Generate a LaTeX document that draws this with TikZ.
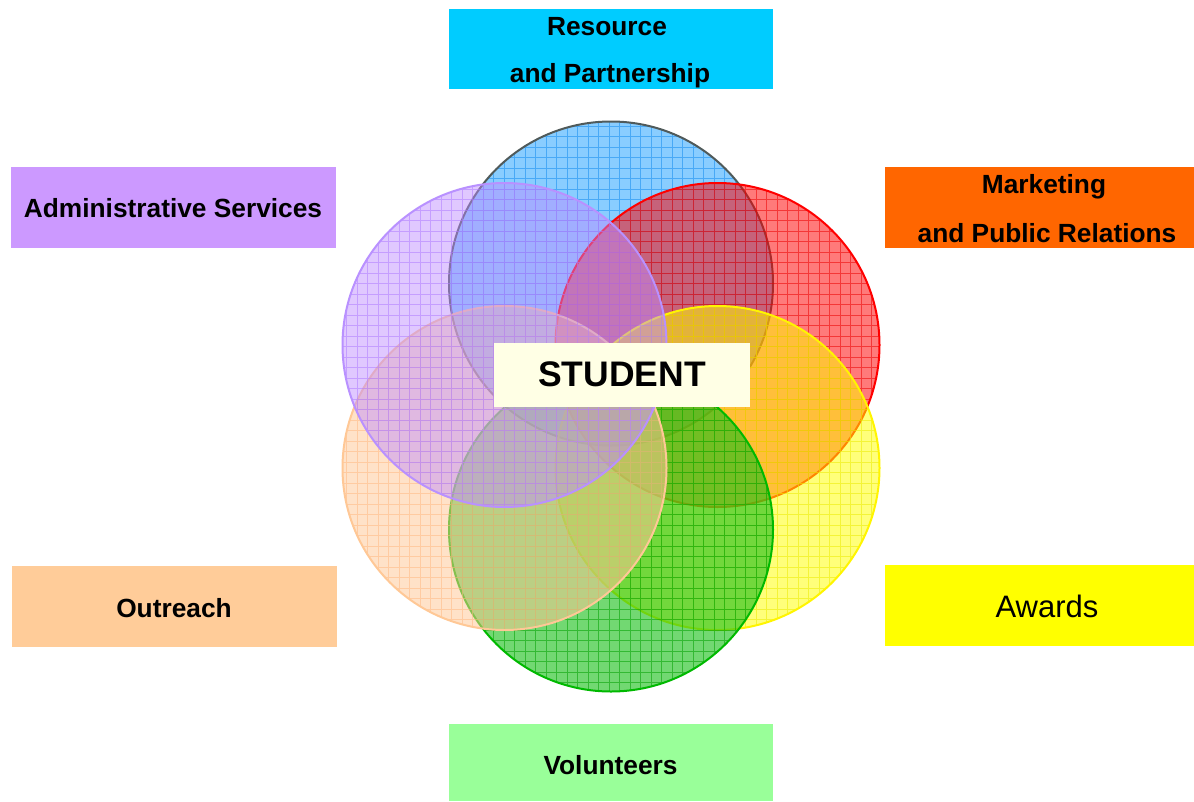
\documentclass[tikz,border=0pt]{standalone}
\usepackage{fontspec}
\setmainfont{Liberation Sans}
\definecolor{boxcyan}{HTML}{00CCFF}
\definecolor{boxpurple}{HTML}{CC99FF}
\definecolor{boxorange}{HTML}{FF6600}
\definecolor{boxpeach}{HTML}{FFCC99}
\definecolor{boxyellow}{HTML}{FFFF00}
\definecolor{boxgreen}{HTML}{99FF99}
\definecolor{boxstudent}{HTML}{FFFFE5}
\definecolor{fblue}{RGB}{30,160,255}
\definecolor{gblue}{RGB}{20,140,240}
\definecolor{bblue}{RGB}{80,90,90}
\definecolor{fred}{RGB}{255,0,0}
\definecolor{gred}{RGB}{235,0,0}
\definecolor{bred}{RGB}{255,0,0}
\definecolor{fyellow}{RGB}{255,255,0}
\definecolor{gyellow}{RGB}{235,235,0}
\definecolor{byellow}{RGB}{255,245,0}
\definecolor{fgreen}{RGB}{20,190,20}
\definecolor{ggreen}{RGB}{0,160,0}
\definecolor{bgreen}{RGB}{0,185,0}
\definecolor{fpeach}{RGB}{255,200,150}
\definecolor{gpeach}{RGB}{255,185,130}
\definecolor{bpeach}{RGB}{255,200,150}
\definecolor{fpurple}{RGB}{190,140,255}
\definecolor{gpurple}{RGB}{175,125,255}
\definecolor{bpurple}{RGB}{185,145,255}
\begin{document}
\begin{tikzpicture}[x=1pt,y=-1pt,
  labelbox/.style={rectangle, draw=none, inner sep=0pt, anchor=north west},
  lbl/.style={inner sep=0pt, anchor=base, font=\fontsize{26.3}{30}\selectfont\bfseries},
  lblplain/.style={inner sep=0pt, anchor=base, font=\fontsize{31}{36}\selectfont},
  lblbig/.style={inner sep=0pt, anchor=base, font=\fontsize{35.5}{40}\selectfont\bfseries},
  ring/.style={line width=2pt}]
\useasboundingbox (0,0) rectangle (1194,801);
\fill[white] (0,0) rectangle (1194,801);
% circles
\foreach \cx/\cy/\fc/\gc/\bc/\op in {
  611/283.5/fblue/gblue/bblue/0.52,
  717.5/345/fred/gred/bred/0.52,
  717.5/468/fyellow/gyellow/byellow/0.52,
  611/529.5/fgreen/ggreen/bgreen/0.6,
  504.5/468/fpeach/gpeach/bpeach/0.52,
  504.5/345/fpurple/gpurple/bpurple/0.47}{
  \fill[\fc, fill opacity=\op] (\cx,\cy) circle[radius=162];
  \begin{scope}
    \clip (\cx,\cy) circle[radius=162];
    \draw[\gc, line width=0.8pt, opacity=0.55, step=10.5pt] (\cx-170,\cy-170) grid (\cx+170,\cy+170);
  \end{scope}
  \draw[\bc, ring] (\cx,\cy) circle[radius=162];
}
% boxes
\node[labelbox, fill=boxcyan, minimum width=324pt, minimum height=80pt] (res) at (449,9) {};
\node[lbl] (res1) at (607,35) {Resource};
\node[lbl] (res2) at (610,82) {and Partnership};

\node[labelbox, fill=boxpurple, minimum width=325pt, minimum height=81pt] (adm) at (11,167) {};
\node[lbl] (adm1) at (173,217) {Administrative Services};

\node[labelbox, fill=boxorange, minimum width=309pt, minimum height=81pt] (mkt) at (885,167) {};
\node[lbl] (mkt1) at (1044,193) {Marketing};
\node[lbl] (mkt2) at (1047,242) {and Public Relations};

\node[labelbox, fill=boxpeach, minimum width=325pt, minimum height=81pt] (out) at (12,566) {};
\node[lbl] (out1) at (174,617) {Outreach};

\node[labelbox, fill=boxyellow, minimum width=309pt, minimum height=81pt] (awd) at (885,565) {};
\node[lblplain] (awd1) at (1047,617) {Awards};

\node[labelbox, fill=boxgreen, minimum width=324pt, minimum height=77pt] (vol) at (449,724) {};
\node[lbl] (vol1) at (610.5,774) {Volunteers};

\node[labelbox, fill=boxstudent, minimum width=256pt, minimum height=64pt] (stu) at (494,343) {};
\node[lblbig] (stu1) at (622,386) {STUDENT};
\end{tikzpicture}
\end{document}
